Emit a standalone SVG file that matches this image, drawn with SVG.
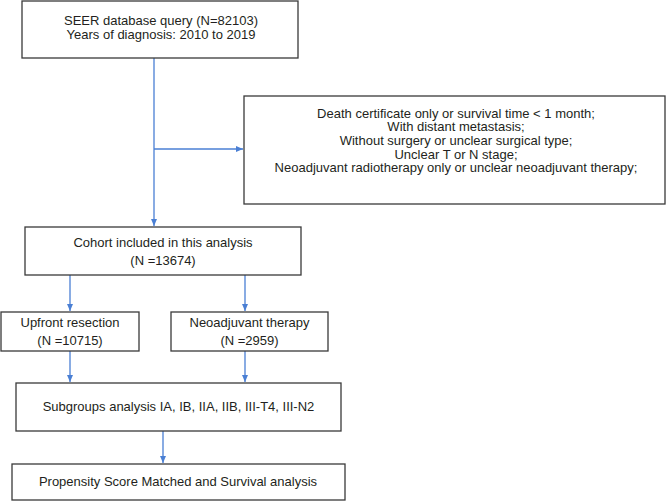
<svg xmlns="http://www.w3.org/2000/svg" width="666" height="501" viewBox="0 0 666 501">
<style>
.box{fill:#fff;stroke:#3a3a3a;stroke-width:1.3}
text{font-family:"Liberation Sans",Arial,sans-serif;font-size:13px;fill:#231f20;text-anchor:middle}
.c{fill:none;stroke:#4a7fd4;stroke-width:1.3}
</style>
<defs>
<marker id="ah" markerWidth="8" markerHeight="8" refX="7" refY="4" orient="auto" markerUnits="userSpaceOnUse">
<path d="M0,1 L7,4 L0,7 Z" fill="#4a7fd4"/>
</marker>
</defs>
<rect width="666" height="501" fill="#fff"/>
<g id="connectors">
<line class="c" x1="154" y1="58" x2="154" y2="226" marker-end="url(#ah)"/>
<line class="c" x1="154" y1="149" x2="243" y2="149" marker-end="url(#ah)"/>
<line class="c" x1="70" y1="275" x2="70" y2="311" marker-end="url(#ah)"/>
<line class="c" x1="245" y1="275" x2="245" y2="311" marker-end="url(#ah)"/>
<line class="c" x1="70" y1="351" x2="70" y2="382" marker-end="url(#ah)"/>
<line class="c" x1="245" y1="351" x2="245" y2="382" marker-end="url(#ah)"/>
<line class="c" x1="163" y1="431" x2="163" y2="463" marker-end="url(#ah)"/>
</g>
<g id="seer">
<rect class="box" x="22" y="1" width="276" height="57"/>
<text x="161" y="24.5">SEER database query (N=82103)</text>
<text x="161" y="39">Years of diagnosis: 2010 to 2019</text>
</g>
<g id="exclusion">
<rect class="box" x="244" y="96" width="421" height="108"/>
<text x="456" y="117.5">Death certificate only or survival time &lt; 1 month;</text>
<text x="456" y="131">With distant metastasis;</text>
<text x="456" y="145">Without surgery or unclear surgical type;</text>
<text x="456" y="158.5">Unclear T or N stage;</text>
<text x="456" y="172">Neoadjuvant radiotherapy only or unclear neoadjuvant therapy;</text>
</g>
<g id="cohort">
<rect class="box" x="25" y="227" width="276" height="48"/>
<text x="163" y="247">Cohort included in this analysis</text>
<text x="163" y="264.5">(N =13674)</text>
</g>
<g id="upfront">
<rect class="box" x="1" y="312" width="138" height="39"/>
<text x="70" y="327">Upfront resection</text>
<text x="70" y="344.5">(N =10715)</text>
</g>
<g id="neoadjuvant">
<rect class="box" x="171" y="312" width="157" height="39"/>
<text x="249.5" y="327">Neoadjuvant therapy</text>
<text x="249.5" y="344.5">(N =2959)</text>
</g>
<g id="subgroups">
<rect class="box" x="16" y="383" width="325" height="48"/>
<text x="178.5" y="411">Subgroups analysis IA, IB, IIA, IIB, III-T4, III-N2</text>
</g>
<g id="propensity">
<rect class="box" x="12" y="464" width="333" height="36"/>
<text x="178" y="486">Propensity Score Matched and Survival analysis</text>
</g>
</svg>
